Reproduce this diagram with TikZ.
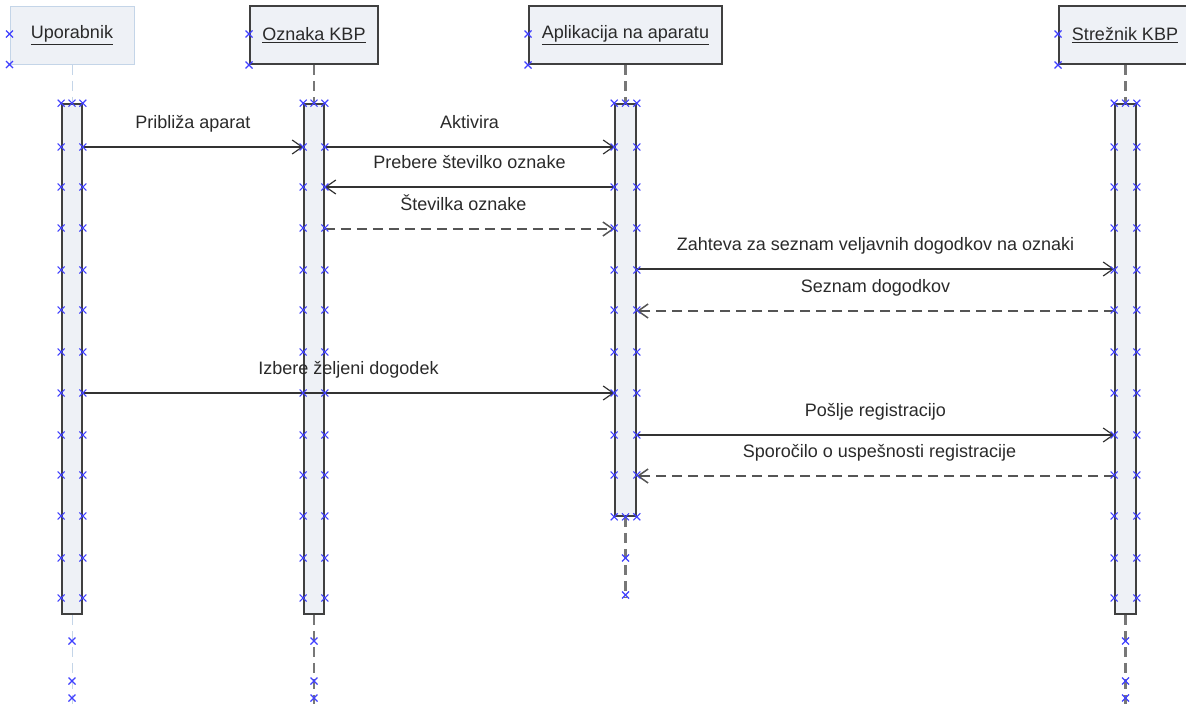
\documentclass[tikz,border=0pt]{standalone}
\usepackage{fontspec}
\setmainfont{Liberation Sans}
\usetikzlibrary{arrows.meta}
\definecolor{fillc}{HTML}{EEF1F6}
\definecolor{edgec}{HTML}{404040}
\definecolor{lightedge}{HTML}{C4D5E8}
\definecolor{markc}{HTML}{4040FF}
\definecolor{lifec}{HTML}{777777}
\definecolor{msgc}{HTML}{333333}
\definecolor{retc}{HTML}{555555}
\definecolor{txtc}{HTML}{2A2A2A}
\begin{document}
\begin{tikzpicture}[x=1pt,y=-1pt,
  every node/.style={font=\fontsize{18}{20}\selectfont, text=txtc},
  headbox/.style={draw=edgec, line width=2pt, fill=fillc, minimum height=58pt, inner sep=0pt},
  headlight/.style={draw=lightedge, line width=1pt, fill=fillc, minimum height=58pt, inner sep=0pt},
  actbar/.style={draw=edgec, line width=1.6pt, fill=fillc, minimum width=20pt, inner sep=0pt},
  life/.style={draw=lifec, line width=2.4pt, dash pattern=on 10pt off 6pt},
  lifelight/.style={draw=lightedge, line width=1pt, dash pattern=on 10pt off 6pt},
  msg/.style={draw=msgc, line width=1.2pt, -{Straight Barb[length=10pt,width=14pt]}},
  retmsg/.style={msg, draw=retc, line width=1.5pt, dash pattern=on 10pt off 6pt},
  lbl/.style={text height=13pt, text depth=4pt, inner sep=0pt},
  mk/.pic={\draw[markc, line width=1.1pt] (-3.5,-3.5)--(3.5,3.5) (-3.5,3.5)--(3.5,-3.5);}
]
\clip (0,0) rectangle (1186,704);

% heads
\node[headlight, minimum width=124pt] (h1) at (72,35) {\underline{Uporabnik}};
\node[headbox, minimum width=128pt] (h2) at (314,35) {\underline{Oznaka KBP}};
\node[headbox, minimum width=193pt] (h3) at (625.5,35) {\underline{Aplikacija na aparatu}};
\node[headbox, minimum width=132pt] (h4) at (1125,35) {\underline{Strežnik KBP}};

% activation bars (placement)
\node[actbar, minimum height=510pt] (b1) at (72,359) {};
\node[actbar, minimum height=510pt] (b2) at (314,359) {};
\node[actbar, minimum height=412pt, minimum width=21pt] (b3) at (625.5,310) {};
\node[actbar, minimum height=510pt, minimum width=21pt] (b4) at (1125.5,359) {};

% lifeline ends
\coordinate (e1) at (72,704);
\coordinate (e2) at (314,704);
\coordinate (e3) at (625.5,598);
\coordinate (e4) at (1125.5,704);

% lifelines
\draw[lifelight] (h1.south) -- (b1.north);
\draw[lifelight] (b1.south) -- (e1);
\draw[life] (h2.south) -- (b2.north);
\draw[life] (b2.south) -- (e2);
\draw[life] (h3.south) -- (b3.north);
\draw[life] (b3.south) -- (e3);
\draw[life] (h4.south -| b4.north) -- (b4.north);
\draw[life] (b4.south) -- (e4);

% redraw bars on top of lifelines
\node[actbar, minimum height=510pt] at (b1) {};
\node[actbar, minimum height=510pt] at (b2) {};
\node[actbar, minimum height=412pt, minimum width=21pt] at (b3) {};
\node[actbar, minimum height=510pt, minimum width=21pt] at (b4) {};

% messages
\draw[msg] (b1.east |- 0,147) -- (b2.west |- 0,147)
  node[lbl, midway, yshift=23.5pt] {Približa aparat};
\draw[msg] (b2.east |- 0,147) -- (b3.west |- 0,147)
  node[lbl, midway, yshift=23.5pt] {Aktivira};
\draw[msg] (b3.west |- 0,187) -- (b2.east |- 0,187)
  node[lbl, midway, yshift=23.5pt] {Prebere številko oznake};
\draw[retmsg] (b2.east |- 0,229) -- (b3.west |- 0,229)
  node[lbl, midway, yshift=23.5pt, xshift=-6pt] {Številka oznake};
\draw[msg] (b3.east |- 0,269) -- (b4.west |- 0,269)
  node[lbl, midway, yshift=23.5pt] {Zahteva za seznam veljavnih dogodkov na oznaki};
\draw[retmsg] (b4.west |- 0,311) -- (b3.east |- 0,311)
  node[lbl, midway, yshift=23.5pt] {Seznam dogodkov};
\draw[msg] (b1.east |- 0,393) -- (b3.west |- 0,393)
  node[lbl, midway, yshift=23.5pt] {Izbere željeni dogodek};
\draw[msg] (b3.east |- 0,435) -- (b4.west |- 0,435)
  node[lbl, midway, yshift=23.5pt] {Pošlje registracijo};
\draw[retmsg] (b4.west |- 0,476) -- (b3.east |- 0,476)
  node[lbl, midway, yshift=23.5pt, xshift=4pt] {Sporočilo o uspešnosti registracije};

% markers
\foreach \h in {h1,h2,h3,h4}{
  \pic at ([yshift=1pt]\h.west) {mk};
  \pic at (\h.south west) {mk};
}
\foreach \n in {b1,b2,b4}{
  \foreach \y in {147,187,228,270,310,352,393,435,475,516,558,598}{
    \pic at (\n.west |- 0,\y) {mk};
    \pic at (\n.east |- 0,\y) {mk};
  }
  \pic at (\n.north west) {mk};
  \pic at (\n.north) {mk};
  \pic at (\n.north east) {mk};
  \foreach \y in {641,681,698}{
    \pic at (\n.center |- 0,\y) {mk};
  }
}
\foreach \y in {147,187,228,270,310,352,393,435,475}{
  \pic at (b3.west |- 0,\y) {mk};
  \pic at (b3.east |- 0,\y) {mk};
}
\pic at (b3.north west) {mk};
\pic at (b3.north) {mk};
\pic at (b3.north east) {mk};
\pic at (b3.south west) {mk};
\pic at (b3.south) {mk};
\pic at (b3.south east) {mk};
\pic at (b3.center |- 0,558) {mk};
\pic at (b3.center |- 0,595) {mk};
\end{tikzpicture}
\end{document}
